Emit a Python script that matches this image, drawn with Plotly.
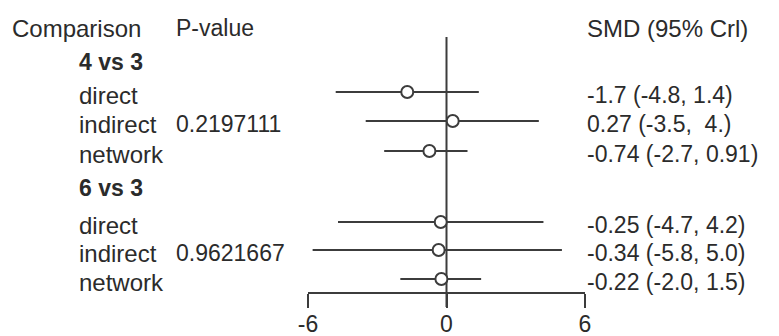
import plotly.graph_objects as go

comparisons = ["4 vs 3", "6 vs 3"]
evidence = ["direct", "indirect", "network"]
p_values = ["0.2197111", "0.9621667"]
smd = [-1.7, 0.27, -0.74, -0.25, -0.34, -0.22]
lower = [-4.8, -3.5, -2.7, -4.7, -5.8, -2.0]
upper = [1.4, 4.0, 0.91, 4.2, 5.0, 1.5]
smd_text = ["-1.7 (-4.8, 1.4)", "0.27 (-3.5,  4.)", "-0.74 (-2.7, 0.91)",
            "-0.25 (-4.7, 4.2)", "-0.34 (-5.8, 5.0)", "-0.22 (-2.0, 1.5)"]

W, H = 779, 336
FONT = "Liberation Sans, Arial, sans-serif"
COL = "#2b2b2b"
LINE = "#3c3c3c"

# vertical layout in pixels (y axis runs 0 at top .. H at bottom)
header_y = 28
group_y = [62, 188]
row_y = [92, 121, 151, 222, 250, 279]
axis_y = 293

fig = go.Figure()

# credible interval whiskers
xs, ys = [], []
for lo, hi, y in zip(lower, upper, row_y):
    xs += [lo, hi, None]
    ys += [y, y, None]
fig.add_trace(go.Scatter(x=xs, y=ys, mode="lines",
                         line=dict(color=LINE, width=2), hoverinfo="skip"))

# point estimates
fig.add_trace(go.Scatter(x=smd, y=row_y, mode="markers",
                         marker=dict(symbol="circle", size=12, color="white",
                                     line=dict(color=LINE, width=2))))

# line of no effect
fig.add_shape(type="line", x0=0, x1=0, y0=37, y1=307, xref="x", yref="y",
              line=dict(color=LINE, width=2), layer="below")


def txt(x, y, s, bold=False, size=23):
    if bold:
        s = "<b>" + s + "</b>"
    fig.add_annotation(x=x / W, y=y, xref="paper", yref="y", text=s,
                       showarrow=False, xanchor="left", yanchor="middle",
                       font=dict(family=FONT, size=size, color=COL))


txt(10, header_y, "Comparison", size=24)
txt(174, header_y, "P-value")
txt(585, header_y, "SMD (95% Crl)", size=24)

for g, comp in enumerate(comparisons):
    txt(77, group_y[g], comp, bold=True)
    for j, ev in enumerate(evidence):
        k = g * 3 + j
        txt(77, row_y[k] + 3, ev, size=24)
        txt(585, row_y[k] + 3, smd_text[k].replace("  ", " &nbsp;"))
    txt(174, row_y[g * 3 + 1] + 3, p_values[g])

x0_px, x1_px = 308, 585
fig.update_layout(
    width=W, height=H,
    margin=dict(l=0, r=0, t=0, b=0),
    plot_bgcolor="white", paper_bgcolor="white",
    showlegend=False,
    xaxis=dict(domain=[x0_px / W, x1_px / W], range=[-6, 6],
               anchor="free", position=1 - axis_y / H, automargin=False,
               tickvals=[-6, 0, 6], ticktext=["-6", "0", "6"],
               ticks="outside", ticklen=14, tickwidth=2, tickcolor=LINE,
               ticklabelstandoff=-4,
               showline=True, linecolor=LINE, linewidth=2,
               showgrid=False, zeroline=False,
               tickfont=dict(family=FONT, size=23, color=COL)),
    yaxis=dict(domain=[0, 1], range=[H, 0], visible=False,
               showgrid=False, zeroline=False),
)

fig.write_html("out.html", default_width="779px", default_height="336px",
               config={"displayModeBar": False},
               post_script="document.body.style.margin='0';")
